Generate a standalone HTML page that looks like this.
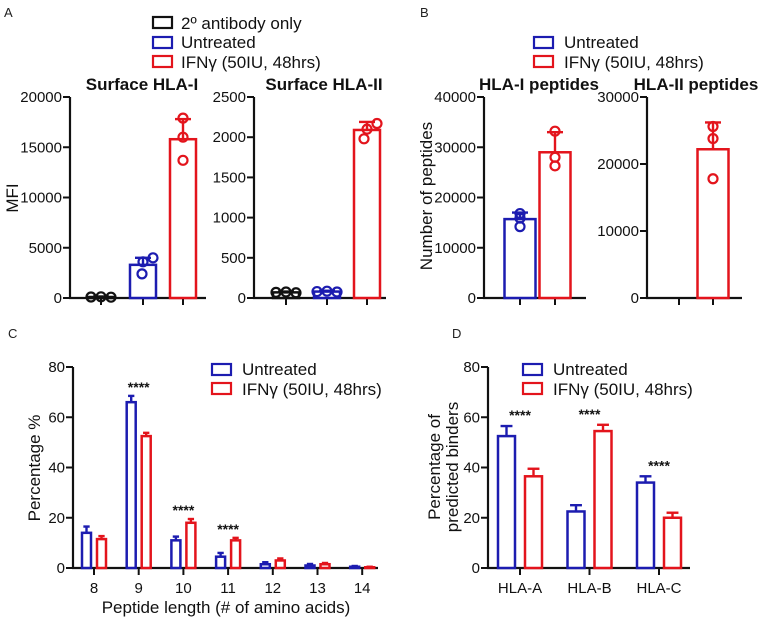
<!DOCTYPE html>
<html><head><meta charset="utf-8">
<style>
html,body{margin:0;padding:0;background:#fff;}
svg{display:block;font-family:"Liberation Sans",Arial,sans-serif;}
</style></head>
<body>
<svg id="fig" width="768" height="625" viewBox="0 0 768 625" xmlns="http://www.w3.org/2000/svg">
  <text x="4" y="17" font-size="13" fill="#222">A</text>
  <text x="420" y="17" font-size="13" fill="#222">B</text>
  <text x="8" y="338" font-size="13" fill="#222">C</text>
  <text x="452" y="338" font-size="13" fill="#222">D</text>

  <g font-size="17" fill="#111">
    <rect x="153" y="17" width="19" height="11" fill="none" stroke="#111" stroke-width="2.2"/>
    <text x="181" y="29">2º antibody only</text>
    <rect x="153" y="37" width="19" height="11" fill="none" stroke="#1c1cb0" stroke-width="2.2"/>
    <text x="181" y="48">Untreated</text>
    <rect x="153" y="56" width="19" height="11" fill="none" stroke="#e3141c" stroke-width="2.2"/>
    <text x="181" y="68">IFNγ (50IU, 48hrs)</text>
  </g>
  <g font-size="17" fill="#111">
    <rect x="534" y="37" width="19" height="11" fill="none" stroke="#1c1cb0" stroke-width="2.2"/>
    <text x="564" y="48">Untreated</text>
    <rect x="534" y="56" width="19" height="11" fill="none" stroke="#e3141c" stroke-width="2.2"/>
    <text x="564" y="68">IFNγ (50IU, 48hrs)</text>
  </g>
  <g font-size="17" fill="#111">
    <rect x="212" y="364" width="19" height="11" fill="none" stroke="#1c1cb0" stroke-width="2.2"/>
    <text x="242" y="375">Untreated</text>
    <rect x="212" y="383" width="19" height="11" fill="none" stroke="#e3141c" stroke-width="2.2"/>
    <text x="242" y="395">IFNγ (50IU, 48hrs)</text>
  </g>
  <g font-size="17" fill="#111">
    <rect x="523" y="364" width="19" height="11" fill="none" stroke="#1c1cb0" stroke-width="2.2"/>
    <text x="553" y="375">Untreated</text>
    <rect x="523" y="383" width="19" height="11" fill="none" stroke="#e3141c" stroke-width="2.2"/>
    <text x="553" y="395">IFNγ (50IU, 48hrs)</text>
  </g>

  <text x="142" y="90" font-size="17" font-weight="bold" text-anchor="middle" fill="#111">Surface HLA-I</text>
  <text x="324" y="90" font-size="17" font-weight="bold" text-anchor="middle" fill="#111">Surface HLA-II</text>
  <text x="539" y="90" font-size="17" font-weight="bold" text-anchor="middle" fill="#111">HLA-I peptides</text>
  <text x="696" y="90" font-size="17" font-weight="bold" text-anchor="middle" fill="#111">HLA-II peptides</text>

  <text transform="translate(18,198) rotate(-90)" font-size="17" text-anchor="middle" fill="#111">MFI</text>
  <text transform="translate(432,196) rotate(-90)" font-size="17" text-anchor="middle" fill="#111">Number of peptides</text>
  <text transform="translate(40,468) rotate(-90)" font-size="17" text-anchor="middle" fill="#111">Percentage %</text>
  <text transform="translate(440,467) rotate(-90)" font-size="17" text-anchor="middle" fill="#111">Percentage of</text>
  <text transform="translate(458,467) rotate(-90)" font-size="17" text-anchor="middle" fill="#111">predicted binders</text>
  <text x="226" y="613" font-size="17" text-anchor="middle" fill="#111">Peptide length (# of amino acids)</text>
</svg>
<script>
// ---- Panel A data ----
const a1Means = [100, 3300, 15800];
const a1Err = [150, 4000, 17800];
const a1Points = [[100, 120, 80], [4000, 3600, 2400], [17900, 16000, 13700]];
const a1Ticks = [0, 5000, 10000, 15000, 20000];
const a2Means = [70, 80, 2090];
const a2Err = [80, 90, 2190];
const a2Points = [[70, 75, 65], [80, 85, 75], [2170, 2100, 1980]];
const a2Ticks = [0, 500, 1000, 1500, 2000, 2500];
// ---- Panel B data ----
const b1Means = [15700, 29000];
const b1Err = [17000, 33000];
const b1Points = [[16800, 15900, 14200], [33200, 28000, 26300]];
const b1Ticks = [0, 10000, 20000, 30000, 40000];
const b2Means = [0, 22200];
const b2Err = [0, 26200];
const b2Points = [[], [25600, 23800, 17800]];
const b2Ticks = [0, 10000, 20000, 30000];
// ---- Panel C data ----
const cCategories = ["8", "9", "10", "11", "12", "13", "14"];
const cUntreated = [14, 66, 11, 4.5, 1.5, 1, 0.5];
const cUntreatedErr = [2.5, 2.5, 1.5, 1.5, 0.8, 0.6, 0.3];
const cIfng = [11.5, 52.5, 18, 11, 3, 1.5, 0.3];
const cIfngErr = [1.2, 1.3, 1.5, 1, 0.8, 0.5, 0.2];
const cStars = ["", "****", "****", "****", "", "", ""];
const cTicks = [0, 20, 40, 60, 80];
// ---- Panel D data ----
const dCategories = ["HLA-A", "HLA-B", "HLA-C"];
const dUntreated = [52.5, 22.5, 34];
const dUntreatedErr = [4, 2.5, 2.5];
const dIfng = [36.5, 54.5, 20];
const dIfngErr = [3, 2.5, 2];
const dTicks = [0, 20, 40, 60, 80];

const NS = "http://www.w3.org/2000/svg";
const svg = document.getElementById("fig");
const BLUE = "#1c1cb0", RED = "#e3141c", BLACK = "#111";
function mk(tag, attrs, parent) {
  const e = document.createElementNS(NS, tag);
  for (const k in attrs) e.setAttribute(k, attrs[k]);
  (parent || svg).appendChild(e);
  return e;
}
function scale(d0, d1, r0, r1) { return v => r0 + (v - d0) / (d1 - d0) * (r1 - r0); }

function axes(ax, x0, x1, yTop, yBot, ticks, y, xTicks, name) {
  const g = mk("g", {});
  
  
  const yl = mk("line", {x1: ax, y1: yTop, x2: ax, y2: yBot, stroke: "#111", "stroke-width": 2.2}, g);
  
  
  const xl = mk("line", {x1: ax - 1, y1: yBot, x2: x1, y2: yBot, stroke: "#111", "stroke-width": 2.2}, g);
  
  
  ticks.forEach(t => {
    const tl = mk("line", {x1: ax - 7, y1: y(t), x2: ax, y2: y(t), stroke: "#111", "stroke-width": 2}, g);
    
    
    const tx = mk("text", {x: ax - 8, y: y(t) + 5, "font-size": 15, "text-anchor": "end", fill: "#111"}, g);
    tx.textContent = t;
    
    
  });
  xTicks.forEach(xx => {
    const tl = mk("line", {x1: xx, y1: yBot, x2: xx, y2: yBot + 7, stroke: "#111", "stroke-width": 2}, g);
    
    
  });
}

function bar(cx, w, v, err, y, color, name) {
  const top = y(v), base = y(0);
  const r = mk("rect", {x: cx - w / 2, y: top, width: w, height: Math.max(0, base - top), fill: "#fff", stroke: color, "stroke-width": 2.5});
  
  
  if (err > v) {
    const e1 = mk("line", {x1: cx, y1: top, x2: cx, y2: y(err), stroke: color, "stroke-width": 2.4});
    
    
    const cw = Math.min(w * 0.35, 8);
    const e2 = mk("line", {x1: cx - cw, y1: y(err), x2: cx + cw, y2: y(err), stroke: color, "stroke-width": 2.4});
    
    
  }
}
function points(cx, vals, y, color, offs, name) {
  vals.forEach((v, i) => {
    const c = mk("circle", {cx: cx + offs[i], cy: y(v), r: 4.5, fill: "none", stroke: color, "stroke-width": 2.2});
    
    
  });
}

const colorsA = [BLACK, BLUE, RED];
const namesA = ["secondary", "untreated", "ifng"];
// Panel A1
(function () {
  const y = scale(0, 20000, 298, 97);
  const xs = [101, 143, 183];
  axes(70, 70, 206, 97, 298, a1Ticks, y, xs, 'surface-hla-i');
  xs.forEach((cx, i) => {
    bar(cx, 26, a1Means[i], a1Err[i], y, colorsA[i], 'bar-surface-hla-i-' + namesA[i]);
    points(cx, a1Points[i], y, colorsA[i], i === 2 ? [0, 0, 0] : (i === 1 ? [10, 0, -1] : [-10, 0, 10]), 'surface-hla-i-' + namesA[i]);
  });
})();
// Panel A2
(function () {
  const y = scale(0, 2500, 298, 97);
  const xs = [286, 327, 367];
  axes(254, 254, 386, 97, 298, a2Ticks, y, xs, 'surface-hla-ii');
  xs.forEach((cx, i) => {
    bar(cx, 26, a2Means[i], a2Err[i], y, colorsA[i], 'bar-surface-hla-ii-' + namesA[i]);
    points(cx, a2Points[i], y, colorsA[i], i === 2 ? [10, 0, -3] : [-10, 0, 10], 'surface-hla-ii-' + namesA[i]);
  });
})();
// Panel B1
(function () {
  const y = scale(0, 40000, 298, 97);
  const xs = [520, 555];
  axes(484, 484, 586, 97, 298, b1Ticks, y, xs, 'hla-i-peptides');
  const cols = [BLUE, RED], nm = ["untreated", "ifng"];
  xs.forEach((cx, i) => {
    bar(cx, 31, b1Means[i], b1Err[i], y, cols[i], 'bar-hla-i-peptides-' + nm[i]);
    points(cx, b1Points[i], y, cols[i], [0, 0, 0], 'hla-i-peptides-' + nm[i]);
  });
})();
// Panel B2
(function () {
  const y = scale(0, 30000, 298, 97);
  const xs = [679, 713];
  axes(647, 647, 742, 97, 298, b2Ticks, y, xs, 'hla-ii-peptides');
  const cols = [BLUE, RED], nm = ["untreated", "ifng"];
  xs.forEach((cx, i) => {
    if (b2Means[i] > 0) bar(cx, 31, b2Means[i], b2Err[i], y, cols[i], 'bar-hla-ii-peptides-' + nm[i]);
    points(cx, b2Points[i], y, cols[i], [0, 0, 0], 'hla-ii-peptides-' + nm[i]);
  });
})();
// Panel C
(function () {
  const y = scale(0, 80, 568, 367);
  const x = i => 94 + i * 44.7;
  const xs = cCategories.map((c, i) => x(i));
  axes(73, 73, 378, 367, 568, cTicks, y, xs, 'peptide-length');
  cCategories.forEach((c, i) => {
    const lb = mk("text", {x: x(i), y: 593, "font-size": 15, "text-anchor": "middle", fill: "#111"});
    lb.textContent = c;
    
    
    bar(x(i) - 7.5, 9, cUntreated[i], cUntreated[i] + cUntreatedErr[i], y, BLUE, 'bar-untreated-' + c);
    bar(x(i) + 7.5, 9, cIfng[i], cIfng[i] + cIfngErr[i], y, RED, 'bar-ifng-' + c);
    if (cStars[i]) {
      const top = Math.max(cUntreated[i] + cUntreatedErr[i], cIfng[i] + cIfngErr[i]);
      const st = mk("text", {x: x(i), y: y(top) - 4, "font-size": 14, "font-weight": "bold", "text-anchor": "middle", fill: "#111"});
      st.textContent = cStars[i];
      
      
    }
  });
})();
// Panel D
(function () {
  const y = scale(0, 80, 568, 367);
  const x = i => 520 + i * 69.5;
  const xs = dCategories.map((c, i) => x(i));
  axes(488, 488, 690, 367, 568, dTicks, y, xs, 'predicted-binders');
  dCategories.forEach((c, i) => {
    const lb = mk("text", {x: x(i), y: 593, "font-size": 15, "text-anchor": "middle", fill: "#111"});
    lb.textContent = c;
    
    
    bar(x(i) - 13.5, 17, dUntreated[i], dUntreated[i] + dUntreatedErr[i], y, BLUE, 'bar-untreated-' + c);
    bar(x(i) + 13.5, 17, dIfng[i], dIfng[i] + dIfngErr[i], y, RED, 'bar-ifng-' + c);
    const top = Math.max(dUntreated[i] + dUntreatedErr[i], dIfng[i] + dIfngErr[i]);
    const st = mk("text", {x: x(i), y: y(top) - 6, "font-size": 14, "font-weight": "bold", "text-anchor": "middle", fill: "#111"});
    st.textContent = "****";
    
    
  });
})();
</script>
</body></html>
